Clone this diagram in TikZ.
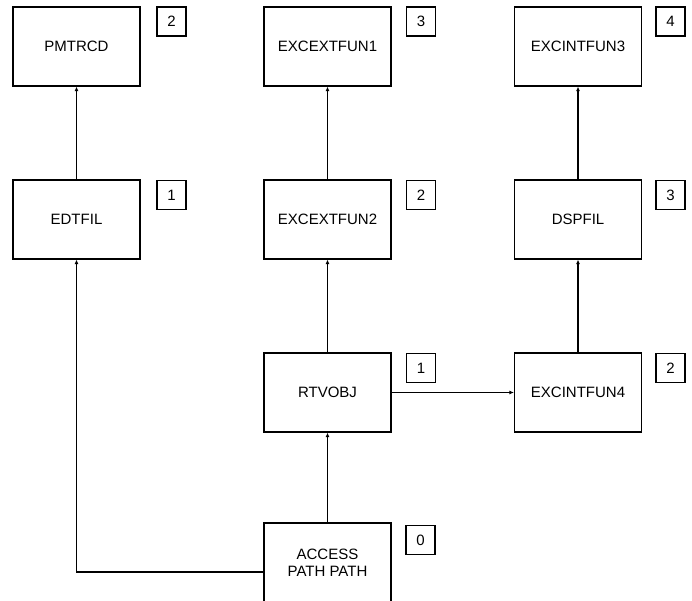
\documentclass[tikz,border=0pt]{standalone}
\usepackage{fontspec}
\setmainfont{Liberation Sans}
\usetikzlibrary{arrows.meta}
\begin{document}
\begin{tikzpicture}[x=1pt,y=-1pt,
  box/.style={draw,line width=1.2pt,minimum width=127pt,minimum height=79pt,inner sep=0pt,align=center,font=\fontsize{15}{17}\selectfont},
  num/.style={draw,line width=1.2pt,minimum width=29pt,minimum height=29pt,inner sep=0pt,font=\fontsize{15}{17}\selectfont},
  conn/.style={line width=1.2pt,-{Latex[length=4.5pt,width=4pt]}}]
\useasboundingbox (0,0) rectangle (692,601);
\clip (0,0) rectangle (692,601);
\fill[white] (0,0) rectangle (692,601);
% column 1
\node[box] (pmtrcd) at (76.5,46.5) {PMTRCD};
\node[num] (n1a) at (171.5,21.5) {2};
\node[box] (edtfil) at (76.5,219.5) {EDTFIL};
\node[num] (n1b) at (171.5,195) {1};
% column 2
\node[box] (ext1) at (327.5,46.5) {EXCEXTFUN1};
\node[num] (n2a) at (421,21.5) {3};
\node[box] (ext2) at (327.5,219.5) {EXCEXTFUN2};
\node[num] (n2b) at (421,195) {2};
\node[box] (rtv) at (327.5,392.5) {RTVOBJ};
\node[num] (n2c) at (421,368) {1};
\node[box] (acc) at (327.5,562.5) {ACCESS\\PATH PATH};
\node[num] (n2d) at (420.5,540) {0};
% column 3
\node[box] (int3) at (578,46.5) {EXCINTFUN3};
\node[num] (n3a) at (670.5,21.5) {4};
\node[box] (dsp) at (578,219.5) {DSPFIL};
\node[num] (n3b) at (670.5,195) {3};
\node[box] (int4) at (578,392.5) {EXCINTFUN4};
\node[num] (n3c) at (670.5,368) {2};
\coordinate (corner) at (76.5,572);
% connectors
\draw[conn] (edtfil) -- (pmtrcd);
\draw[conn] (ext2) -- (ext1);
\draw[conn] (rtv) -- (ext2);
\draw[conn] (acc) -- (rtv);
\draw[conn] (dsp) -- (int3);
\draw[conn] (int4) -- (dsp);
\draw[conn] (rtv) -- (int4);
\draw[conn] (acc.west |- corner) -- (corner) -- (edtfil);
\end{tikzpicture}
\end{document}
